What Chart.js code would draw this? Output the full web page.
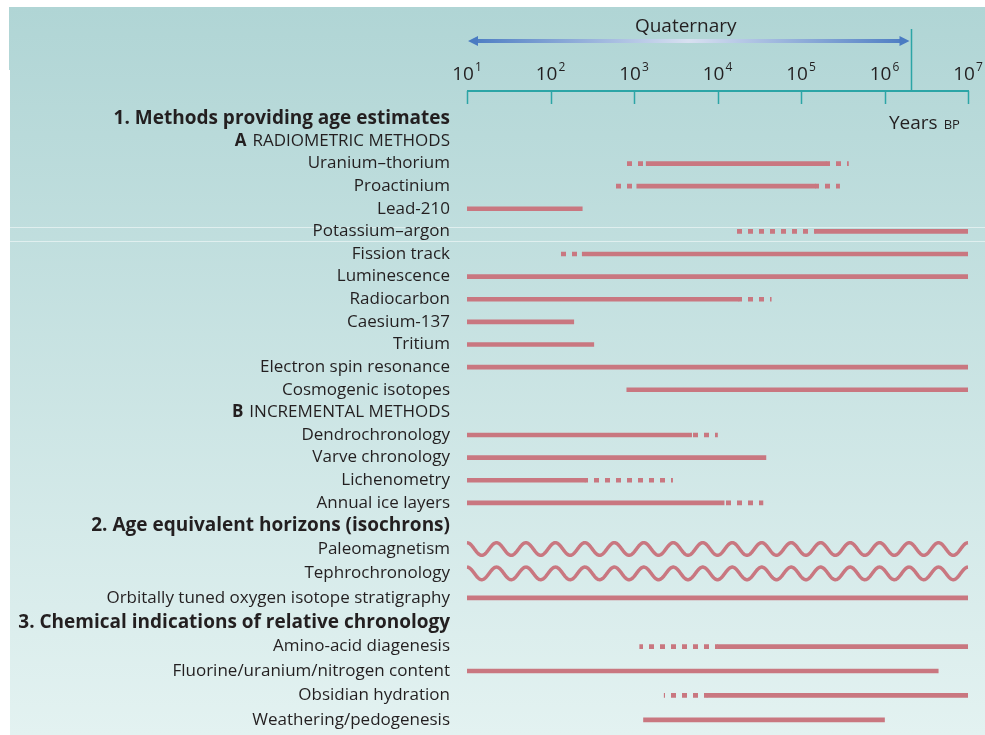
<!DOCTYPE html>
<html>
<head>
<meta charset="utf-8">
<script src="https://cdn.jsdelivr.net/npm/chart.js@4.4.1/dist/chart.umd.min.js"></script>
<style>
  body { margin: 0; background: #fff; }
  #wrap { width: 985px; height: 735px; }
</style>
</head>
<body>
<div id="wrap"><canvas id="dating" width="985" height="735"></canvas></div>
<script>
// rows of the figure, top to bottom
const rowLabels = [
  '1. Methods providing age estimates',
  'A RADIOMETRIC METHODS',
  'Uranium–thorium',
  'Proactinium',
  'Lead-210',
  'Potassium–argon',
  'Fission track',
  'Luminescence',
  'Radiocarbon',
  'Caesium-137',
  'Tritium',
  'Electron spin resonance',
  'Cosmogenic isotopes',
  'B INCREMENTAL METHODS',
  'Dendrochronology',
  'Varve chronology',
  'Lichenometry',
  'Annual ice layers',
  '2. Age equivalent horizons (isochrons)',
  'Paleomagnetism',
  'Tephrochronology',
  'Orbitally tuned oxygen isotope stratigraphy',
  '3. Chemical indications of relative chronology',
  'Amino-acid diagenesis',
  'Fluorine/uranium/nitrogen content',
  'Obsidian hydration',
  'Weathering/pedogenesis'
];
const sectionTitles = [
  '1. Methods providing age estimates',
  '2. Age equivalent horizons (isochrons)',
  '3. Chemical indications of relative chronology'
];
const groupTitles = ['A RADIOMETRIC METHODS', 'B INCREMENTAL METHODS'];

// age range of each method, years BP (solid line)
const solidRange = [
  null, null,
  [1400, 2.0e5], [1080, 1.5e5], [10, 240], [1.5e5, 1e7], [240, 1e7],
  [10, 1e7], [10, 1.8e4], [10, 190], [10, 330], [10, 1e7], [820, 1e7],
  null,
  [10, 4900], [10, 3.8e4], [10, 260], [10, 1.2e4],
  null,
  null, null, [10, 1e7],
  null,
  [1.0e4, 1e7], [10, 4.4e6], [7500, 1e7], [1300, 1e6]
];
// uncertain extension below the solid range (dashed)
const dashLow = [
  null, null,
  [760, 1400], [600, 1080], null, [1.5e4, 1.5e5], [130, 240],
  null, null, null, null, null, null,
  null,
  null, null, null, null,
  null,
  null, null, null,
  null,
  [1170, 1.0e4], null, [2300, 7500], null
];
// uncertain extension above the solid range (dashed)
const dashHigh = [
  null, null,
  [2.0e5, 3.7e5], [1.5e5, 2.9e5], null, null, null,
  null, [1.8e4, 4.4e4], null, null, null, null,
  null,
  [4900, 1e4], null, [260, 2900], [1.2e4, 3.5e4],
  null,
  null, null, null,
  null,
  null, null, null, null
];
// isochron methods (wavy line)
const wavyRange = [
  null, null,
  null, null, null, null, null,
  null, null, null, null, null, null,
  null,
  null, null, null, null,
  null,
  [10, 1e7], [10, 1e7], null,
  null,
  null, null, null, null
];

// top axis
const decades = [1e1, 1e2, 1e3, 1e4, 1e5, 1e6, 1e7];
const quaternaryEnd = 2.1e6;
const quaternaryLabel = 'Quaternary';
const unitLabel = 'Years';
const unitSmall = 'BP';

const FONT = "'Open Sans', sans-serif";
const ink = '#231f20';
const pink = '#c97780';
const teal = '#2ca5a6';

// the two row blocks have slightly different spacing in the figure
const splitAt = 19;
const topPart = arr => arr.slice(0, splitAt);
const bottomPart = arr => arr.slice(splitAt);

// dashes for the uncertain parts
function makeDashes() {
  const c = document.createElement('canvas');
  c.width = 11; c.height = 4;
  const g = c.getContext('2d');
  g.fillStyle = pink;
  g.fillRect(0, 0, 5, 4);
  return g.createPattern(c, 'repeat');
}
const dashes = makeDashes();

function rowSets(part, axisId) {
  return [
    { label: 'solid', data: part(solidRange), backgroundColor: pink },
    { label: 'uncertain', data: part(dashLow), backgroundColor: dashes },
    { label: 'uncertain', data: part(dashHigh), backgroundColor: dashes },
    { label: 'wavy', data: part(wavyRange), backgroundColor: 'rgba(0,0,0,0)' }
  ].map(d => Object.assign(d, {
    yAxisID: axisId, xAxisID: 'x', barThickness: 4, grouped: false, borderWidth: 0
  }));
}

function rowScale(labels, weight) {
  return {
    type: 'category',
    labels: labels,
    position: 'left',
    stack: 'rows',
    stackWeight: weight,
    offset: true,
    grid: { display: false, drawTicks: false },
    border: { display: false },
    ticks: {
      autoSkip: false,
      padding: 17,
      color: ink,
      font: ctx => sectionTitles.includes(labels[ctx.index])
        ? { family: FONT, size: 19, weight: 'bold' }
        : { family: FONT, size: 17 },
      callback: (v, i) => groupTitles.includes(labels[i]) ? labels[i].slice(2) : labels[i]
    },
    afterFit: s => {
      s.width = 457;
      // labels sit inside the rows, no extra room needed above/below
      s.paddingTop = 0;
      s.paddingBottom = 0;
    }
  };
}

// background panel
const panel = {
  id: 'panel',
  beforeDraw(chart) {
    const ctx = chart.ctx;
    ctx.save();
    ctx.fillStyle = '#fff';
    ctx.fillRect(0, 0, chart.width, chart.height);
    const g = ctx.createLinearGradient(0, 7, 0, 735);
    g.addColorStop(0, '#b0d5d5');
    g.addColorStop(1, '#e3f2f1');
    ctx.fillStyle = g;
    ctx.fillRect(10, 7, chart.width - 10, chart.height - 7);
    ctx.fillRect(9, 7, 1, 63);
    // faint scan lines of the original
    ctx.fillStyle = 'rgba(255,255,255,0.5)';
    ctx.fillRect(10, 227, chart.width - 10, 1);
    ctx.fillRect(10, 241, chart.width - 10, 1);
    ctx.restore();
  }
};

// wavy lines for the isochrons
const waves = {
  id: 'waves',
  afterDatasetsDraw(chart) {
    const ctx = chart.ctx;
    chart.data.datasets.forEach((ds, i) => {
      if (ds.label !== 'wavy') return;
      chart.getDatasetMeta(i).data.forEach((el, j) => {
        if (!ds.data[j]) return;
        const p = el.getProps(['x', 'base', 'y'], true);
        const x0 = Math.min(p.x, p.base), x1 = Math.max(p.x, p.base);
        const period = (x1 - x0) / 17, amp = 6.3;
        ctx.save();
        ctx.strokeStyle = pink;
        ctx.lineWidth = 3.5;
        ctx.beginPath();
        for (let x = x0; x <= x1 + 0.01; x += 0.5) {
          const y = p.y - amp * Math.cos(2 * Math.PI * (x - x0) / period);
          if (x === x0) ctx.moveTo(x, y); else ctx.lineTo(x, y);
        }
        ctx.stroke();
        ctx.restore();
      });
    });
  }
};

// top axis, Quaternary arrow and the bold A / B letters
const extras = {
  id: 'extras',
  afterDraw(chart) {
    const ctx = chart.ctx;
    const x = chart.scales.x;
    const lineY = 91;
    ctx.save();

    // axis line and ticks
    ctx.strokeStyle = teal;
    ctx.lineWidth = 2;
    ctx.beginPath();
    ctx.moveTo(x.left, lineY);
    ctx.lineTo(x.right + 1, lineY);
    ctx.stroke();
    ctx.lineWidth = 1.5;
    ctx.beginPath();
    decades.forEach(v => {
      const px = Math.round(x.getPixelForValue(v)) + 0.5;
      ctx.moveTo(px, lineY);
      ctx.lineTo(px, lineY + 13);
    });
    const qx = Math.round(x.getPixelForValue(quaternaryEnd)) + 0.5;
    ctx.moveTo(qx, 29);
    ctx.lineTo(qx, lineY);
    ctx.stroke();

    // 10^n labels
    ctx.fillStyle = ink;
    ctx.textBaseline = 'alphabetic';
    ctx.textAlign = 'left';
    decades.forEach(v => {
      const px = x.getPixelForValue(v);
      const exp = String(Math.round(Math.log10(v)));
      ctx.font = '19px ' + FONT;
      const w1 = ctx.measureText('10').width;
      ctx.font = '12px ' + FONT;
      const w2 = ctx.measureText(exp).width;
      const left = px - (w1 + w2 + 1) / 2;
      ctx.font = '19px ' + FONT;
      ctx.fillText('10', left, 80);
      ctx.font = '12px ' + FONT;
      ctx.fillText(exp, left + w1 + 1, 71);
    });

    // Quaternary arrow
    const ax0 = x.getPixelForValue(decades[0]) + 1, ax1 = qx - 2, ay = 41;
    const g = ctx.createLinearGradient(ax0, 0, ax1, 0);
    g.addColorStop(0, '#4a7bc2');
    g.addColorStop(0.5, '#d8e0f1');
    g.addColorStop(1, '#4a7bc2');
    ctx.strokeStyle = g;
    ctx.lineWidth = 4;
    ctx.beginPath();
    ctx.moveTo(ax0 + 6, ay);
    ctx.lineTo(ax1 - 6, ay);
    ctx.stroke();
    ctx.fillStyle = '#4a7bc2';
    ctx.beginPath();
    ctx.moveTo(ax0, ay); ctx.lineTo(ax0 + 10, ay - 5); ctx.lineTo(ax0 + 10, ay + 5); ctx.closePath();
    ctx.moveTo(ax1, ay); ctx.lineTo(ax1 - 10, ay - 5); ctx.lineTo(ax1 - 10, ay + 5); ctx.closePath();
    ctx.fill();
    ctx.fillStyle = ink;
    ctx.font = '19px ' + FONT;
    ctx.textAlign = 'center';
    ctx.fillText(quaternaryLabel, (ax0 + ax1) / 2 - 3, 32);

    // Years BP
    ctx.textAlign = 'left';
    ctx.font = '19px ' + FONT;
    ctx.fillText(unitLabel, 889, 129);
    const uw = ctx.measureText(unitLabel).width;
    ctx.font = '13px ' + FONT;
    ctx.fillText(unitSmall, 889 + uw + 6, 129);

    // bold letter in front of the group titles
    ['yTop', 'yBottom'].forEach(id => {
      const s = chart.scales[id];
      s.options.labels.forEach((lab, i) => {
        if (!groupTitles.includes(lab)) return;
        const right = chart.chartArea.left - 17;
        ctx.font = '17px ' + FONT;
        const w = ctx.measureText(lab.slice(2)).width;
        ctx.font = 'bold 17px ' + FONT;
        ctx.textAlign = 'right';
        ctx.textBaseline = 'middle';
        ctx.fillText(lab.slice(0, 1), right - w - 6, s.getPixelForValue(i));
      });
    });
    ctx.restore();
  }
};

const chart = new Chart(document.getElementById('dating'), {
  type: 'bar',
  data: {
    datasets: rowSets(topPart, 'yTop').concat(rowSets(bottomPart, 'yBottom'))
  },
  options: {
    indexAxis: 'y',
    responsive: false,
    animation: false,
    devicePixelRatio: 1,
    layout: { padding: { left: 10, right: 17, top: 107, bottom: 3 } },
    plugins: { legend: { display: false }, tooltip: { enabled: false } },
    scales: {
      x: { type: 'logarithmic', min: decades[0], max: decades[decades.length - 1], display: false },
      // stacked axes: the one declared last ends up on top
      yBottom: rowScale(bottomPart(rowLabels), 8 * 24.4),
      yTop: rowScale(topPart(rowLabels), 19 * 22.62)
    }
  },
  plugins: [panel, waves, extras]
});
</script>
</body>
</html>
